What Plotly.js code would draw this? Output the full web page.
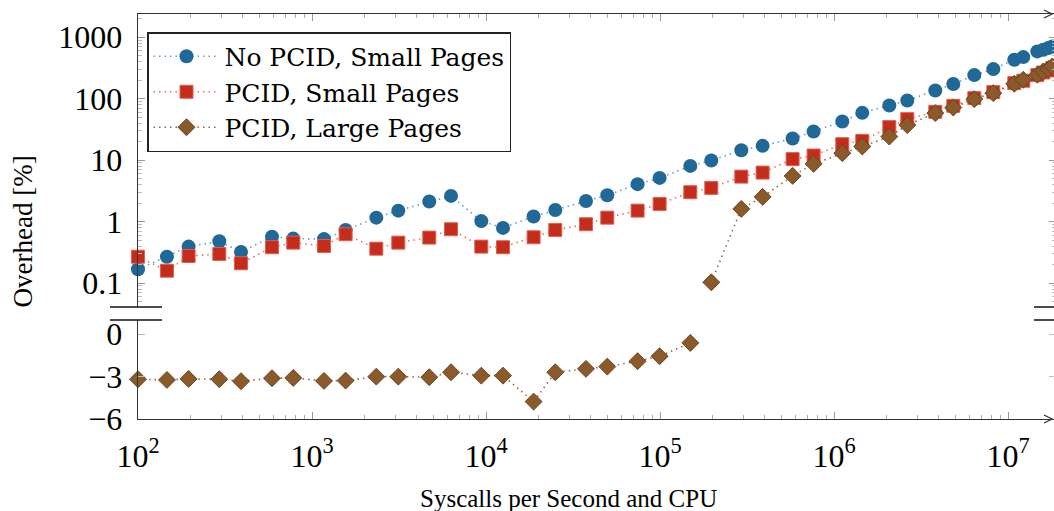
<!DOCTYPE html>
<html><head><meta charset="utf-8">
<script src="https://cdn.plot.ly/plotly-3.0.1.min.js"></script>
<style>html,body{margin:0;padding:0;overflow:hidden;background:#fff}#chart{width:1060px;height:511px}</style>
</head><body><div id="chart"></div>
<script>
// Syscalls per second and CPU (x)
const syscalls = [100, 146.7, 195.4, 293.3, 390.8, 589, 780.6, 1172, 1560, 2342, 3133, 4721, 6295, 9397,
  12525, 18774, 25017, 37550, 49780, 74330, 99470, 149330, 197200, 293300, 388800, 578200, 763300,
  1116000, 1454000, 2079000, 2638000, 3821000, 4849000, 6403000, 8233000, 10870000, 12240000,
  14740000, 15960000, 17040000, 17970000];
// Overhead [%]
const noPcidSmall = [0.168, 0.269, 0.392, 0.479, 0.321, 0.570, 0.529, 0.52, 0.73, 1.16, 1.51, 2.12, 2.62,
  1.02, 0.79, 1.21, 1.55, 2.17, 2.69, 4.07, 5.15, 8.07, 9.85, 14.5, 17.1, 22.5, 29.2, 42.5, 58.9, 77.5,
  93.5, 136, 173, 242, 303, 430, 475, 588, 626, 667, 708];
const pcidSmall = [0.269, 0.159, 0.276, 0.298, 0.210, 0.383, 0.455, 0.402, 0.623, 0.363, 0.455, 0.55,
  0.752, 0.392, 0.383, 0.557, 0.733, 0.907, 1.16, 1.51, 1.94, 3.01, 3.54, 5.40, 6.28, 10.4, 11.9, 18.2,
  20.6, 34.5, 46.5, 61.2, 76.6, 102, 128, 179, 196, 242, 267, 288, 315];
const pcidLarge = [-3.19, -3.24, -3.17, -3.19, -3.33, -3.12, -3.10, -3.31, -3.29, -3.01, -3.01, -3.05,
  -2.70, -2.94, -2.94, -4.77, -2.70, -2.46, -2.30, -1.92, -1.57, -0.63, 0.103, 1.61, 2.53, 5.55, 8.71,
  13.0, 16.7, 24.2, 37.2, 58.3, 71.9, 98.5, 123, 175, 203, 245, 277, 303, 334];
const seriesNames = ['No PCID, Small Pages', 'PCID, Small Pages', 'PCID, Large Pages'];
const xTickVals = [1e2, 1e3, 1e4, 1e5, 1e6, 1e7];
const xTickText = ['10<sup>2</sup>', '10<sup>3</sup>', '10<sup>4</sup>', '10<sup>5</sup>', '10<sup>6</sup>', '10<sup>7</sup>'];
const upTickVals = [0.1, 1, 10, 100, 1000];
const upTickText = ['0.1', '1', '10', '100', '1000'];
const lowTickVals = [0, -3, -6];
const lowTickText = ['0', '−3', '−6'];

function minorLog(d0, d1) { const a = []; for (let d = d0; d <= d1; d++) for (let k = 2; k <= 9; k++) a.push(k * Math.pow(10, d)); return a; }

const FONT = '"Liberation Serif", "DejaVu Serif", serif';
const LFONT = '"DejaVu Serif", "Liberation Serif", serif';
const upperLarge = pcidLarge.map(v => v > 0 ? v : null);
const lowerLarge = pcidLarge.map(v => v <= 0 ? v : null);

const blue = '#1f6897', red = '#c42c1c', brown = '#8b5a2b';
const DOT = '1.5px,4px';
const traces = [
  {x: syscalls, y: noPcidSmall, xaxis: 'x2', yaxis: 'y2', name: seriesNames[0], mode: 'lines+markers', cliponaxis: false,
   line: {color: '#5e9fd4', dash: DOT, width: 1.6}, marker: {symbol: 'circle', size: 14, color: blue}},
  {x: syscalls, y: pcidSmall, xaxis: 'x2', yaxis: 'y2', name: seriesNames[1], mode: 'lines+markers', cliponaxis: false,
   line: {color: '#ee6f5c', dash: DOT, width: 1.6}, marker: {symbol: 'square', size: 13, color: red, line: {color: '#e0604f', width: 1}}},
  {x: syscalls, y: upperLarge, xaxis: 'x2', yaxis: 'y2', name: seriesNames[2], mode: 'lines+markers', cliponaxis: false, connectgaps: false,
   line: {color: '#8f6a45', dash: DOT, width: 1.6}, marker: {symbol: 'diamond', size: 13, color: brown, line: {color: '#6a4420', width: 1}}},
  {x: syscalls, y: lowerLarge, xaxis: 'x', yaxis: 'y', name: seriesNames[2], showlegend: false, mode: 'lines+markers', cliponaxis: false, connectgaps: false,
   line: {color: '#8f6a45', dash: DOT, width: 1.6}, marker: {symbol: 'diamond', size: 13, color: brown, line: {color: '#6a4420', width: 1}}}
];

const lowTop = 99 / 405, upBot = 112 / 405;
const tickFont = {family: FONT, size: 32, color: '#000'};
const xCommon = {type: 'log', range: [2, 2 + 918 / 174], tickmode: 'array', tickvals: xTickVals, ticktext: xTickText,
  ticks: 'inside', ticklen: 7, tickwidth: 1, tickcolor: '#999', showline: true, linecolor: '#333', linewidth: 1.3,
  showgrid: false, zeroline: false, tickfont: tickFont,
  minor: {tickmode: 'array', tickvals: minorLog(2, 7), ticks: 'inside', ticklen: 4, tickcolor: '#aaa', showgrid: false}};

const layout = {
  width: 1060, height: 511,
  margin: {l: 138, r: 4, t: 14, b: 92},
  paper_bgcolor: '#fff', plot_bgcolor: 'rgba(0,0,0,0)',
  font: {family: FONT, color: '#000'},
  showlegend: true,
  legend: {x: 9 / 918, y: 1 - 18 / 405, xanchor: 'left', yanchor: 'top', bgcolor: '#fff', bordercolor: '#222', borderwidth: 1.5,
    font: {family: LFONT, size: 25, color: '#000'}, itemwidth: 66},
  xaxis: Object.assign({}, xCommon, {anchor: 'y', domain: [0, 1], ticklabelstandoff: 8}),
  xaxis2: Object.assign({}, xCommon, {anchor: 'y2', side: 'top', matches: 'x', showticklabels: false}),
  yaxis: {anchor: 'x', domain: [0, lowTop], range: [-6, 0.99], tickmode: 'array', tickvals: lowTickVals, ticktext: lowTickText,
    ticks: 'inside', ticklen: 7, tickcolor: '#bbb', showline: true, linecolor: '#333', linewidth: 1.3, mirror: 'ticks',
    showgrid: false, zeroline: false, tickfont: tickFont, ticklabelstandoff: 8},
  yaxis2: {anchor: 'x2', domain: [upBot, 1], type: 'log', range: [-1.389, 3.378], tickmode: 'array', tickvals: upTickVals, ticktext: upTickText,
    ticks: 'inside', ticklen: 7, tickcolor: '#999', showline: true, linecolor: '#333', linewidth: 1.3, mirror: 'ticks',
    showgrid: false, zeroline: false, tickfont: tickFont, ticklabelstandoff: 8,
    minor: {tickmode: 'array', tickvals: minorLog(-2, 3), ticks: 'inside', ticklen: 4, tickcolor: '#bbb', showgrid: false}},
  annotations: [
    {text: 'Overhead [%]', xref: 'paper', yref: 'paper', x: 0, y: 187.5 / 405, xshift: -115, textangle: -90,
     showarrow: false, xanchor: 'center', yanchor: 'middle', font: {family: FONT, size: 27, color: '#000'}},
    {text: 'Syscalls per Second and CPU', xref: 'paper', yref: 'paper', x: (568.5 - 138) / 918, y: 0, yshift: -79,
     showarrow: false, xanchor: 'center', yanchor: 'middle', font: {family: FONT, size: 25, color: '#000'}}
  ],
  shapes: [
    {type: 'line', xref: 'paper', yref: 'paper', xsizemode: 'pixel', xanchor: 0, x0: -28, x1: 24, y0: upBot, y1: upBot, line: {color: '#111', width: 1.5}},
    {type: 'line', xref: 'paper', yref: 'paper', xsizemode: 'pixel', xanchor: 0, x0: -28, x1: 24, y0: lowTop, y1: lowTop, line: {color: '#111', width: 1.5}},
    {type: 'line', xref: 'paper', yref: 'paper', xsizemode: 'pixel', xanchor: 1, x0: -22, x1: 20, y0: upBot, y1: upBot, line: {color: '#111', width: 1.5}},
    {type: 'line', xref: 'paper', yref: 'paper', xsizemode: 'pixel', xanchor: 1, x0: -22, x1: 20, y0: lowTop, y1: lowTop, line: {color: '#111', width: 1.5}},
    {type: 'path', xref: 'paper', yref: 'paper', xsizemode: 'pixel', ysizemode: 'pixel', xanchor: 1, yanchor: 0, path: 'M -12,4 L -4,0 L -12,-4', line: {color: '#333', width: 1.3}},
    {type: 'path', xref: 'paper', yref: 'paper', xsizemode: 'pixel', ysizemode: 'pixel', xanchor: 1, yanchor: 1, path: 'M -12,4 L -4,0 L -12,-4', line: {color: '#333', width: 1.3}}
  ]
};
Plotly.newPlot('chart', traces, layout, {staticPlot: true, displayModeBar: false});
</script></body></html>
